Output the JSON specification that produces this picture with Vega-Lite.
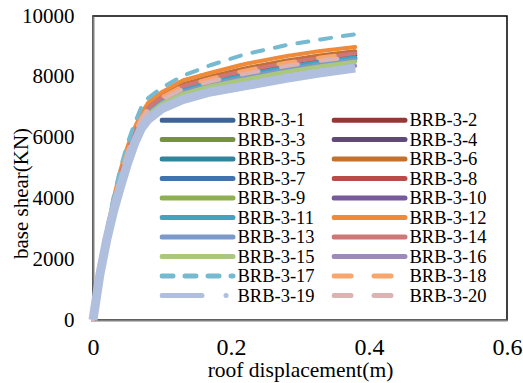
{
"$schema": "https://vega.github.io/schema/vega-lite/v6.json",
"width": 414, "height": 304,
"autosize": "none",
"padding": {"left": 93, "top": 16, "right": 16, "bottom": 63},
"background": "white",
"data": {"values": [
{"s":"BRB-3-1","d":0,"v":0},{"s":"BRB-3-1","d":0.01,"v":1550},{"s":"BRB-3-1","d":0.02,"v":2775},{"s":"BRB-3-1","d":0.03,"v":3800},{"s":"BRB-3-1","d":0.04,"v":4675},{"s":"BRB-3-1","d":0.05,"v":5425},{"s":"BRB-3-1","d":0.06,"v":6050},{"s":"BRB-3-1","d":0.07,"v":6550},{"s":"BRB-3-1","d":0.08,"v":6875},{"s":"BRB-3-1","d":0.1,"v":7225},{"s":"BRB-3-1","d":0.13,"v":7565},{"s":"BRB-3-1","d":0.17,"v":7815},{"s":"BRB-3-1","d":0.22,"v":8060},{"s":"BRB-3-1","d":0.28,"v":8315},{"s":"BRB-3-1","d":0.33,"v":8490},{"s":"BRB-3-1","d":0.38,"v":8635},
{"s":"BRB-3-2","d":0,"v":0},{"s":"BRB-3-2","d":0.01,"v":1560},{"s":"BRB-3-2","d":0.02,"v":2800},{"s":"BRB-3-2","d":0.03,"v":3840},{"s":"BRB-3-2","d":0.04,"v":4730},{"s":"BRB-3-2","d":0.05,"v":5480},{"s":"BRB-3-2","d":0.06,"v":6100},{"s":"BRB-3-2","d":0.07,"v":6600},{"s":"BRB-3-2","d":0.08,"v":6930},{"s":"BRB-3-2","d":0.1,"v":7280},{"s":"BRB-3-2","d":0.13,"v":7628},{"s":"BRB-3-2","d":0.17,"v":7878},{"s":"BRB-3-2","d":0.22,"v":8132},{"s":"BRB-3-2","d":0.28,"v":8388},{"s":"BRB-3-2","d":0.33,"v":8562},{"s":"BRB-3-2","d":0.38,"v":8704},
{"s":"BRB-3-3","d":0,"v":0},{"s":"BRB-3-3","d":0.01,"v":1540},{"s":"BRB-3-3","d":0.02,"v":2750},{"s":"BRB-3-3","d":0.03,"v":3760},{"s":"BRB-3-3","d":0.04,"v":4620},{"s":"BRB-3-3","d":0.05,"v":5370},{"s":"BRB-3-3","d":0.06,"v":6000},{"s":"BRB-3-3","d":0.07,"v":6500},{"s":"BRB-3-3","d":0.08,"v":6820},{"s":"BRB-3-3","d":0.1,"v":7170},{"s":"BRB-3-3","d":0.13,"v":7502},{"s":"BRB-3-3","d":0.17,"v":7752},{"s":"BRB-3-3","d":0.22,"v":7988},{"s":"BRB-3-3","d":0.28,"v":8242},{"s":"BRB-3-3","d":0.33,"v":8418},{"s":"BRB-3-3","d":0.38,"v":8566},
{"s":"BRB-3-4","d":0,"v":0},{"s":"BRB-3-4","d":0.01,"v":1560},{"s":"BRB-3-4","d":0.02,"v":2800},{"s":"BRB-3-4","d":0.03,"v":3840},{"s":"BRB-3-4","d":0.04,"v":4730},{"s":"BRB-3-4","d":0.05,"v":5480},{"s":"BRB-3-4","d":0.06,"v":6100},{"s":"BRB-3-4","d":0.07,"v":6600},{"s":"BRB-3-4","d":0.08,"v":6930},{"s":"BRB-3-4","d":0.1,"v":7280},{"s":"BRB-3-4","d":0.13,"v":7628},{"s":"BRB-3-4","d":0.17,"v":7878},{"s":"BRB-3-4","d":0.22,"v":8132},{"s":"BRB-3-4","d":0.28,"v":8388},{"s":"BRB-3-4","d":0.33,"v":8562},{"s":"BRB-3-4","d":0.38,"v":8704},
{"s":"BRB-3-5","d":0,"v":0},{"s":"BRB-3-5","d":0.01,"v":1545},{"s":"BRB-3-5","d":0.02,"v":2762},{"s":"BRB-3-5","d":0.03,"v":3780},{"s":"BRB-3-5","d":0.04,"v":4648},{"s":"BRB-3-5","d":0.05,"v":5398},{"s":"BRB-3-5","d":0.06,"v":6025},{"s":"BRB-3-5","d":0.07,"v":6525},{"s":"BRB-3-5","d":0.08,"v":6848},{"s":"BRB-3-5","d":0.1,"v":7198},{"s":"BRB-3-5","d":0.13,"v":7534},{"s":"BRB-3-5","d":0.17,"v":7784},{"s":"BRB-3-5","d":0.22,"v":8024},{"s":"BRB-3-5","d":0.28,"v":8279},{"s":"BRB-3-5","d":0.33,"v":8454},{"s":"BRB-3-5","d":0.38,"v":8601},
{"s":"BRB-3-6","d":0,"v":0},{"s":"BRB-3-6","d":0.01,"v":1580},{"s":"BRB-3-6","d":0.02,"v":2850},{"s":"BRB-3-6","d":0.03,"v":3920},{"s":"BRB-3-6","d":0.04,"v":4840},{"s":"BRB-3-6","d":0.05,"v":5590},{"s":"BRB-3-6","d":0.06,"v":6200},{"s":"BRB-3-6","d":0.07,"v":6700},{"s":"BRB-3-6","d":0.08,"v":7040},{"s":"BRB-3-6","d":0.1,"v":7390},{"s":"BRB-3-6","d":0.13,"v":7754},{"s":"BRB-3-6","d":0.17,"v":8004},{"s":"BRB-3-6","d":0.22,"v":8276},{"s":"BRB-3-6","d":0.28,"v":8534},{"s":"BRB-3-6","d":0.33,"v":8706},{"s":"BRB-3-6","d":0.38,"v":8842},
{"s":"BRB-3-7","d":0,"v":0},{"s":"BRB-3-7","d":0.01,"v":1550},{"s":"BRB-3-7","d":0.02,"v":2775},{"s":"BRB-3-7","d":0.03,"v":3800},{"s":"BRB-3-7","d":0.04,"v":4675},{"s":"BRB-3-7","d":0.05,"v":5425},{"s":"BRB-3-7","d":0.06,"v":6050},{"s":"BRB-3-7","d":0.07,"v":6550},{"s":"BRB-3-7","d":0.08,"v":6875},{"s":"BRB-3-7","d":0.1,"v":7225},{"s":"BRB-3-7","d":0.13,"v":7565},{"s":"BRB-3-7","d":0.17,"v":7815},{"s":"BRB-3-7","d":0.22,"v":8060},{"s":"BRB-3-7","d":0.28,"v":8315},{"s":"BRB-3-7","d":0.33,"v":8490},{"s":"BRB-3-7","d":0.38,"v":8635},
{"s":"BRB-3-8","d":0,"v":0},{"s":"BRB-3-8","d":0.01,"v":1570},{"s":"BRB-3-8","d":0.02,"v":2825},{"s":"BRB-3-8","d":0.03,"v":3880},{"s":"BRB-3-8","d":0.04,"v":4785},{"s":"BRB-3-8","d":0.05,"v":5535},{"s":"BRB-3-8","d":0.06,"v":6150},{"s":"BRB-3-8","d":0.07,"v":6650},{"s":"BRB-3-8","d":0.08,"v":6985},{"s":"BRB-3-8","d":0.1,"v":7335},{"s":"BRB-3-8","d":0.13,"v":7691},{"s":"BRB-3-8","d":0.17,"v":7941},{"s":"BRB-3-8","d":0.22,"v":8204},{"s":"BRB-3-8","d":0.28,"v":8461},{"s":"BRB-3-8","d":0.33,"v":8634},{"s":"BRB-3-8","d":0.38,"v":8773},
{"s":"BRB-3-9","d":0,"v":0},{"s":"BRB-3-9","d":0.01,"v":1530},{"s":"BRB-3-9","d":0.02,"v":2725},{"s":"BRB-3-9","d":0.03,"v":3720},{"s":"BRB-3-9","d":0.04,"v":4565},{"s":"BRB-3-9","d":0.05,"v":5315},{"s":"BRB-3-9","d":0.06,"v":5950},{"s":"BRB-3-9","d":0.07,"v":6450},{"s":"BRB-3-9","d":0.08,"v":6765},{"s":"BRB-3-9","d":0.1,"v":7115},{"s":"BRB-3-9","d":0.13,"v":7439},{"s":"BRB-3-9","d":0.17,"v":7689},{"s":"BRB-3-9","d":0.22,"v":7916},{"s":"BRB-3-9","d":0.28,"v":8169},{"s":"BRB-3-9","d":0.33,"v":8346},{"s":"BRB-3-9","d":0.38,"v":8497},
{"s":"BRB-3-10","d":0,"v":0},{"s":"BRB-3-10","d":0.01,"v":1545},{"s":"BRB-3-10","d":0.02,"v":2762},{"s":"BRB-3-10","d":0.03,"v":3780},{"s":"BRB-3-10","d":0.04,"v":4648},{"s":"BRB-3-10","d":0.05,"v":5398},{"s":"BRB-3-10","d":0.06,"v":6025},{"s":"BRB-3-10","d":0.07,"v":6525},{"s":"BRB-3-10","d":0.08,"v":6848},{"s":"BRB-3-10","d":0.1,"v":7198},{"s":"BRB-3-10","d":0.13,"v":7534},{"s":"BRB-3-10","d":0.17,"v":7784},{"s":"BRB-3-10","d":0.22,"v":8024},{"s":"BRB-3-10","d":0.28,"v":8279},{"s":"BRB-3-10","d":0.33,"v":8454},{"s":"BRB-3-10","d":0.38,"v":8601},
{"s":"BRB-3-11","d":0,"v":0},{"s":"BRB-3-11","d":0.01,"v":1550},{"s":"BRB-3-11","d":0.02,"v":2775},{"s":"BRB-3-11","d":0.03,"v":3800},{"s":"BRB-3-11","d":0.04,"v":4675},{"s":"BRB-3-11","d":0.05,"v":5425},{"s":"BRB-3-11","d":0.06,"v":6050},{"s":"BRB-3-11","d":0.07,"v":6550},{"s":"BRB-3-11","d":0.08,"v":6875},{"s":"BRB-3-11","d":0.1,"v":7225},{"s":"BRB-3-11","d":0.13,"v":7565},{"s":"BRB-3-11","d":0.17,"v":7815},{"s":"BRB-3-11","d":0.22,"v":8060},{"s":"BRB-3-11","d":0.28,"v":8315},{"s":"BRB-3-11","d":0.33,"v":8490},{"s":"BRB-3-11","d":0.38,"v":8635},
{"s":"BRB-3-12","d":0,"v":0},{"s":"BRB-3-12","d":0.01,"v":1600},{"s":"BRB-3-12","d":0.02,"v":2900},{"s":"BRB-3-12","d":0.03,"v":4000},{"s":"BRB-3-12","d":0.04,"v":4950},{"s":"BRB-3-12","d":0.05,"v":5700},{"s":"BRB-3-12","d":0.06,"v":6300},{"s":"BRB-3-12","d":0.07,"v":6800},{"s":"BRB-3-12","d":0.08,"v":7150},{"s":"BRB-3-12","d":0.1,"v":7500},{"s":"BRB-3-12","d":0.13,"v":7880},{"s":"BRB-3-12","d":0.17,"v":8130},{"s":"BRB-3-12","d":0.22,"v":8420},{"s":"BRB-3-12","d":0.28,"v":8680},{"s":"BRB-3-12","d":0.33,"v":8850},{"s":"BRB-3-12","d":0.38,"v":8980},
{"s":"BRB-3-13","d":0,"v":0},{"s":"BRB-3-13","d":0.01,"v":1540},{"s":"BRB-3-13","d":0.02,"v":2750},{"s":"BRB-3-13","d":0.03,"v":3760},{"s":"BRB-3-13","d":0.04,"v":4620},{"s":"BRB-3-13","d":0.05,"v":5370},{"s":"BRB-3-13","d":0.06,"v":6000},{"s":"BRB-3-13","d":0.07,"v":6500},{"s":"BRB-3-13","d":0.08,"v":6820},{"s":"BRB-3-13","d":0.1,"v":7170},{"s":"BRB-3-13","d":0.13,"v":7502},{"s":"BRB-3-13","d":0.17,"v":7752},{"s":"BRB-3-13","d":0.22,"v":7988},{"s":"BRB-3-13","d":0.28,"v":8242},{"s":"BRB-3-13","d":0.33,"v":8418},{"s":"BRB-3-13","d":0.38,"v":8566},
{"s":"BRB-3-14","d":0,"v":0},{"s":"BRB-3-14","d":0.01,"v":1570},{"s":"BRB-3-14","d":0.02,"v":2825},{"s":"BRB-3-14","d":0.03,"v":3880},{"s":"BRB-3-14","d":0.04,"v":4785},{"s":"BRB-3-14","d":0.05,"v":5535},{"s":"BRB-3-14","d":0.06,"v":6150},{"s":"BRB-3-14","d":0.07,"v":6650},{"s":"BRB-3-14","d":0.08,"v":6985},{"s":"BRB-3-14","d":0.1,"v":7335},{"s":"BRB-3-14","d":0.13,"v":7691},{"s":"BRB-3-14","d":0.17,"v":7941},{"s":"BRB-3-14","d":0.22,"v":8204},{"s":"BRB-3-14","d":0.28,"v":8461},{"s":"BRB-3-14","d":0.33,"v":8634},{"s":"BRB-3-14","d":0.38,"v":8773},
{"s":"BRB-3-15","d":0,"v":0},{"s":"BRB-3-15","d":0.01,"v":1530},{"s":"BRB-3-15","d":0.02,"v":2725},{"s":"BRB-3-15","d":0.03,"v":3720},{"s":"BRB-3-15","d":0.04,"v":4565},{"s":"BRB-3-15","d":0.05,"v":5315},{"s":"BRB-3-15","d":0.06,"v":5950},{"s":"BRB-3-15","d":0.07,"v":6450},{"s":"BRB-3-15","d":0.08,"v":6765},{"s":"BRB-3-15","d":0.1,"v":7115},{"s":"BRB-3-15","d":0.13,"v":7439},{"s":"BRB-3-15","d":0.17,"v":7689},{"s":"BRB-3-15","d":0.22,"v":7916},{"s":"BRB-3-15","d":0.28,"v":8169},{"s":"BRB-3-15","d":0.33,"v":8346},{"s":"BRB-3-15","d":0.38,"v":8497},
{"s":"BRB-3-16","d":0,"v":0},{"s":"BRB-3-16","d":0.01,"v":1510},{"s":"BRB-3-16","d":0.02,"v":2675},{"s":"BRB-3-16","d":0.03,"v":3640},{"s":"BRB-3-16","d":0.04,"v":4455},{"s":"BRB-3-16","d":0.05,"v":5205},{"s":"BRB-3-16","d":0.06,"v":5850},{"s":"BRB-3-16","d":0.07,"v":6350},{"s":"BRB-3-16","d":0.08,"v":6655},{"s":"BRB-3-16","d":0.1,"v":7005},{"s":"BRB-3-16","d":0.13,"v":7313},{"s":"BRB-3-16","d":0.17,"v":7563},{"s":"BRB-3-16","d":0.22,"v":7772},{"s":"BRB-3-16","d":0.28,"v":8023},{"s":"BRB-3-16","d":0.33,"v":8202},{"s":"BRB-3-16","d":0.38,"v":8359},
{"s":"BRB-3-17","d":0,"v":0},{"s":"BRB-3-17","d":0.01,"v":1600},{"s":"BRB-3-17","d":0.02,"v":2950},{"s":"BRB-3-17","d":0.03,"v":4050},{"s":"BRB-3-17","d":0.04,"v":5000},{"s":"BRB-3-17","d":0.05,"v":5800},{"s":"BRB-3-17","d":0.06,"v":6450},{"s":"BRB-3-17","d":0.07,"v":7000},{"s":"BRB-3-17","d":0.08,"v":7300},{"s":"BRB-3-17","d":0.1,"v":7640},{"s":"BRB-3-17","d":0.13,"v":8030},{"s":"BRB-3-17","d":0.17,"v":8380},{"s":"BRB-3-17","d":0.22,"v":8740},{"s":"BRB-3-17","d":0.28,"v":9040},{"s":"BRB-3-17","d":0.33,"v":9230},{"s":"BRB-3-17","d":0.38,"v":9400},
{"s":"BRB-3-18","d":0,"v":0},{"s":"BRB-3-18","d":0.01,"v":1570},{"s":"BRB-3-18","d":0.02,"v":2825},{"s":"BRB-3-18","d":0.03,"v":3880},{"s":"BRB-3-18","d":0.04,"v":4785},{"s":"BRB-3-18","d":0.05,"v":5535},{"s":"BRB-3-18","d":0.06,"v":6150},{"s":"BRB-3-18","d":0.07,"v":6650},{"s":"BRB-3-18","d":0.08,"v":6985},{"s":"BRB-3-18","d":0.1,"v":7335},{"s":"BRB-3-18","d":0.13,"v":7691},{"s":"BRB-3-18","d":0.17,"v":7941},{"s":"BRB-3-18","d":0.22,"v":8204},{"s":"BRB-3-18","d":0.28,"v":8461},{"s":"BRB-3-18","d":0.33,"v":8634},{"s":"BRB-3-18","d":0.38,"v":8773},
{"s":"BRB-3-19","d":0,"v":0},{"s":"BRB-3-19","d":0.01,"v":1500},{"s":"BRB-3-19","d":0.02,"v":2650},{"s":"BRB-3-19","d":0.03,"v":3600},{"s":"BRB-3-19","d":0.04,"v":4400},{"s":"BRB-3-19","d":0.05,"v":5150},{"s":"BRB-3-19","d":0.06,"v":5800},{"s":"BRB-3-19","d":0.07,"v":6300},{"s":"BRB-3-19","d":0.08,"v":6600},{"s":"BRB-3-19","d":0.1,"v":6950},{"s":"BRB-3-19","d":0.13,"v":7250},{"s":"BRB-3-19","d":0.17,"v":7500},{"s":"BRB-3-19","d":0.22,"v":7700},{"s":"BRB-3-19","d":0.28,"v":7950},{"s":"BRB-3-19","d":0.33,"v":8130},{"s":"BRB-3-19","d":0.38,"v":8290},
{"s":"BRB-3-20","d":0,"v":0},{"s":"BRB-3-20","d":0.01,"v":1555},{"s":"BRB-3-20","d":0.02,"v":2788},{"s":"BRB-3-20","d":0.03,"v":3820},{"s":"BRB-3-20","d":0.04,"v":4702},{"s":"BRB-3-20","d":0.05,"v":5452},{"s":"BRB-3-20","d":0.06,"v":6075},{"s":"BRB-3-20","d":0.07,"v":6575},{"s":"BRB-3-20","d":0.08,"v":6902},{"s":"BRB-3-20","d":0.1,"v":7252},{"s":"BRB-3-20","d":0.13,"v":7596},{"s":"BRB-3-20","d":0.17,"v":7846},{"s":"BRB-3-20","d":0.22,"v":8096},{"s":"BRB-3-20","d":0.28,"v":8352},{"s":"BRB-3-20","d":0.33,"v":8526},{"s":"BRB-3-20","d":0.38,"v":8670}
]},
"encoding": {
  "x": {"field": "d", "type": "quantitative", "scale": {"domain": [0, 0.6], "nice": false, "zero": false},
        "axis": {"title": "roof displacement(m)", "values": [0, 0.2, 0.4, 0.6], "format": "~g", "labelFlush": false, "labelFont": "Liberation Serif", "titleFont": "Liberation Serif", "labelFontSize": 24, "labelPadding": 15, "titleFontSize": 21.5, "titlePadding": 0}},
  "y": {"field": "v", "type": "quantitative", "scale": {"domain": [0, 10000], "nice": false},
        "axis": {"title": "base shear(KN)", "values": [0, 2000, 4000, 6000, 8000, 10000], "format": "d", "labelFlush": false, "labelFont": "Liberation Serif", "titleFont": "Liberation Serif", "labelFontSize": 21, "labelPadding": 19, "titleFontSize": 21, "titleX": -72, "titleY": 177, "titleAngle": 270, "titleBaseline": "middle", "titleAlign": "center"}}
},
"layer": [
  {
    "mark": {"type": "line", "strokeWidth": 4, "strokeCap": "round", "strokeJoin": "round"},
    "encoding": {
      "color": {"field": "s", "type": "nominal",
        "scale": {"domain": ["BRB-3-1","BRB-3-3","BRB-3-5","BRB-3-7","BRB-3-9","BRB-3-11","BRB-3-13","BRB-3-15","BRB-3-17","BRB-3-19","BRB-3-2","BRB-3-4","BRB-3-6","BRB-3-8","BRB-3-10","BRB-3-12","BRB-3-14","BRB-3-16","BRB-3-18","BRB-3-20"],
                  "range": ["#3C6496","#76923C","#31849B","#4472AE","#8FB050","#43A3BF","#7C9AC9","#AAC77D","#75BAD0","#AFBFDD","#953735","#5F497A","#C2722F","#BB4B48","#765A9B","#EE8A3A","#CD7776","#9D89BA","#F8A56E","#DDB3B1"]},
        "legend": {"title": null, "orient": "none", "legendX": 66.5, "legendY": 95, "columns": 2, "symbolType": "stroke", "symbolSize": 5041, "symbolStrokeWidth": 5, "clipHeight": 18, "labelFontSize": 18.5, "labelOffset": 2, "columnPadding": 16, "rowPadding": 0.5, "padding": 0,
                   "encode": {"symbols": {"update": {"strokeWidth": {"value": 5}, "strokeCap": {"value": "round"}}}}}},
      "strokeDash": {"field": "s", "type": "nominal",
        "scale": {"domain": ["BRB-3-1","BRB-3-3","BRB-3-5","BRB-3-7","BRB-3-9","BRB-3-11","BRB-3-13","BRB-3-15","BRB-3-17","BRB-3-19","BRB-3-2","BRB-3-4","BRB-3-6","BRB-3-8","BRB-3-10","BRB-3-12","BRB-3-14","BRB-3-16","BRB-3-18","BRB-3-20"],
                  "range": [[1,0],[1,0],[1,0],[1,0],[1,0],[1,0],[1,0],[1,0],[11,12],[40,24,0.1,24],[1,0],[1,0],[1,0],[1,0],[1,0],[1,0],[1,0],[1,0],[17,23],[17,23]]},
        "legend": {"title": null, "orient": "none", "legendX": 66.5, "legendY": 95, "columns": 2, "symbolType": "stroke", "symbolSize": 5041, "symbolStrokeWidth": 5, "clipHeight": 18, "labelFontSize": 18.5, "labelOffset": 2, "columnPadding": 16, "rowPadding": 0.5, "padding": 0,
                   "encode": {"symbols": {"update": {"strokeWidth": {"value": 5}, "strokeCap": {"value": "round"}}}}}}
    }
  },
  {
    "transform": [{"filter": "datum.s === 'BRB-3-19'"}],
    "mark": {"type": "line", "color": "#AFBFDD", "strokeWidth": 9, "strokeJoin": "round"},
    "encoding": {}
  }
],
"config": {
  "font": "Liberation Serif",
  "view": {"stroke": "black", "strokeWidth": 1.5},
  "axis": {"grid": false, "ticks": false, "domainColor": "#808080", "domainWidth": 2, "labelColor": "black", "titleColor": "black", "titleFontWeight": "normal", "titleFont": "Liberation Serif"},
  "legend": {"labelFont": "Liberation Serif", "labelColor": "black", "labelLimit": 0}
}
}
